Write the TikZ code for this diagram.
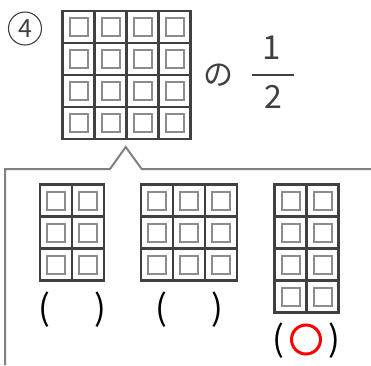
\documentclass[tikz,border=0pt]{standalone}
\usepackage{fontspec}
\setmainfont{Noto Sans CJK JP}
\definecolor{gridc}{HTML}{404040}
\definecolor{innerc}{HTML}{8C8C8C}
\definecolor{bracketc}{HTML}{808080}
\definecolor{textc}{HTML}{404040}
\newcommand{\cellgrid}[4]{% x0 y0 cols rows
  \foreach \i in {1,...,#3}{\foreach \j in {1,...,#4}{
    \draw[innersq] ({#1+(\i-1)*32+7},{#2+(\j-1)*32+7}) rectangle ++(18,18);}}
  \pgfmathsetmacro\gw{#3*32}\pgfmathsetmacro\gh{#4*32}
  \foreach \i in {0,...,#3} \draw[gridline] ({#1+\i*32},#2) -- ++(0,\gh);
  \foreach \j in {0,...,#4} \draw[gridline] (#1,{#2+\j*32}) -- ++(\gw,0);
}
\begin{document}
\begin{tikzpicture}[x=1pt,y=-1pt,
  gridline/.style={draw=gridc,line width=2.3pt,line cap=rect},
  innersq/.style={draw=innerc,line width=2pt},
  bracket/.style={draw=bracketc,line width=2pt,line join=miter},
  txt/.style={inner sep=0pt,text=textc},
  paren/.style={inner sep=0pt,font=\fontsize{35}{35}\selectfont,text=black}]
\useasboundingbox (0,0) rectangle (371,365);
% top grid
\cellgrid{62.5}{11}{4}{4}
% circled number
\node[circle,draw=textc,line width=1.1pt,minimum size=33pt,inner sep=0pt,
      font=\fontsize{25}{25}\selectfont,text=textc] (num) at (25,28.5) {4};
% "no" and fraction
\node[txt,font=\fontsize{30}{30}\selectfont] (no) at (218,75) {の};
\node[txt,font=\fontsize{33}{33}\selectfont] (one) at (272,48) {1};
\node[txt,font=\fontsize{32}{32}\selectfont] (two) at (273,96.5) {2};
\coordinate (fl) at (252,74.5);
\coordinate (fr) at (294,74.5);
\draw[draw=textc,line width=2pt] (fl) -- (fr);
% bracket
\coordinate (bl) at (5,365);
\coordinate (bc) at (5,169);
\coordinate (n1) at (110,169);
\coordinate (peak) at (125.7,147);
\coordinate (n2) at (141.7,169);
\coordinate (br) at (371,169);
\draw[bracket] (bl) -- (bc) -- (n1) -- (peak) -- (n2) -- (br);
% small grids
\cellgrid{40}{184.5}{2}{3}
\cellgrid{141}{184.5}{3}{3}
\cellgrid{274.5}{184.5}{2}{4}
% parentheses
\node[paren] (a1) at (44,309.5) {(};
\node[paren] (a2) at (100.5,309.5) {)};
\node[paren] (b1) at (161.5,309.5) {(};
\node[paren] (b2) at (217.5,309.5) {)};
\node[paren] (c1) at (278,340.5) {(};
\node[paren] (c2) at (334,340.5) {)};
\node[circle,draw=red,line width=3pt,minimum size=29pt,inner sep=0pt] (ans) at (306,339.5) {};
\end{tikzpicture}
\end{document}
